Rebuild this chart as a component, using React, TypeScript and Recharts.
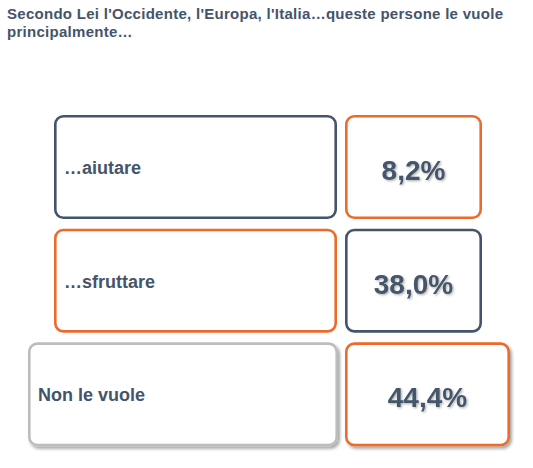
import React from 'react';
import { BarChart, Bar, XAxis, YAxis } from 'recharts';

// ---- data ----
const titleLines = [
  "Secondo Lei l'Occidente, l'Europa, l'Italia…queste persone le vuole",
  'principalmente…',
];
const categories = ['…aiutare', '…sfruttare', 'Non le vuole'];
const percentages = [8.2, 38.0, 44.4];

// ---- styles ----
const SLATE = '#44546A';
const ORANGE = '#EE6A2A';
const GREY = '#BDBDBD';
const labelBorders = [SLATE, ORANGE, GREY];
const valueBorders = [ORANGE, SLATE, ORANGE];
const highlighted = [false, false, true];
const FONT = '"Liberation Sans", Arial, sans-serif';

const W = 533;
const H = 468;
const STROKE = 2.6;

const data = categories.map((category, i) => ({ category, value: percentages[i] }));

const fmt = (v: number) => v.toFixed(1).replace('.', ',') + '%';

const RowShape = (props: any) => {
  const { x, y, height, index, payload } = props;
  const wide = highlighted[index];
  const labelL = x + (wide ? 28 : 54);
  const labelR = x + (wide ? 338 : 337);
  const valueL = x + 345;
  const valueR = x + (wide ? 510 : 482);
  const h2 = STROKE / 2;
  const top = y + h2;
  const hh = height - STROKE;
  const cy = y + height / 2;
  const filter = wide ? 'url(#boxShadow)' : undefined;
  return (
    <g>
      <rect
        x={labelL + h2}
        y={top}
        width={labelR - labelL - STROKE}
        height={hh}
        rx={8}
        ry={8}
        fill="#fff"
        stroke={labelBorders[index]}
        strokeWidth={STROKE}
        filter={filter}
      />
      <rect
        x={valueL + h2}
        y={top}
        width={valueR - valueL - STROKE}
        height={hh}
        rx={8}
        ry={8}
        fill="#fff"
        stroke={valueBorders[index]}
        strokeWidth={STROKE}
        filter={filter}
      />
      <text
        x={labelL + 10}
        y={cy + 7}
        fill={SLATE}
        fontFamily={FONT}
        fontWeight="bold"
        fontSize={18}
      >
        {payload.category}
      </text>
      <text
        x={(valueL + valueR) / 2}
        y={cy + 13}
        textAnchor="middle"
        fill={SLATE}
        fontFamily={FONT}
        fontWeight="bold"
        fontSize={28}
        filter="url(#textShadow)"
      >
        {fmt(payload.value)}
      </text>
    </g>
  );
};

export default function App() {
  return (
    <div
      style={{
        position: 'absolute',
        left: 0,
        top: 0,
        width: W,
        height: H,
        background: '#fff',
        overflow: 'hidden',
      }}
    >
      <svg width={0} height={0} style={{ position: 'absolute' }}>
        <defs>
          <filter id="boxShadow" x="-10%" y="-10%" width="130%" height="130%">
            <feDropShadow dx={2} dy={2.5} stdDeviation={1.5} floodColor="#000" floodOpacity={0.35} />
          </filter>
          <filter id="textShadow" x="-10%" y="-20%" width="130%" height="150%">
            <feDropShadow dx={1.2} dy={1.2} stdDeviation={0.8} floodColor="#000" floodOpacity={0.3} />
          </filter>
        </defs>
      </svg>
      <div
        style={{
          position: 'absolute',
          left: 7,
          top: 5,
          fontFamily: FONT,
          fontWeight: 'bold',
          fontSize: 15,
          letterSpacing: 0.28,
          lineHeight: '18px',
          color: SLATE,
          whiteSpace: 'nowrap',
        }}
      >
        {titleLines[0]}
        <br />
        {titleLines[1]}
      </div>
      <div style={{ position: 'absolute', left: 0, top: 0 }}>
        <BarChart
          width={W}
          height={H}
          data={data}
          layout="vertical"
          margin={{ top: 110, right: 0, bottom: 17, left: 0 }}
          barSize={104}
        >
          <XAxis type="number" domain={[0, 1]} hide />
          <YAxis type="category" dataKey="category" hide />
          <Bar dataKey={() => 1} shape={<RowShape />} isAnimationActive={false} />
        </BarChart>
      </div>
    </div>
  );
}
